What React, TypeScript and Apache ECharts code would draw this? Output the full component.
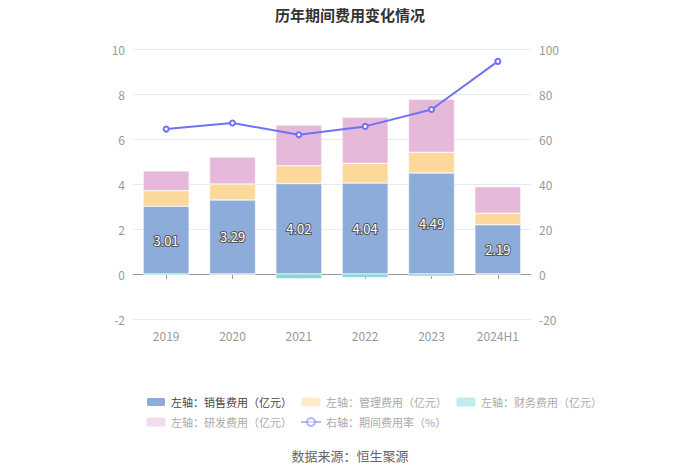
import React, { useEffect, useRef } from "react";
import * as echarts from "echarts";

const categories = ["2019", "2020", "2021", "2022", "2023", "2024H1"];
const salesExp = [3.01, 3.29, 4.02, 4.04, 4.49, 2.19];
const mgmtExp = [0.69, 0.71, 0.79, 0.88, 0.92, 0.51];
const finExp = [-0.05, -0.03, -0.21, -0.16, -0.1, -0.02];
const rdExp = [0.88, 1.2, 1.81, 2.05, 2.36, 1.18];
const expRate = [64.4, 67.1, 61.9, 65.6, 73.1, 94.5];

const names = [
  "左轴：销售费用（亿元）",
  "左轴：管理费用（亿元）",
  "左轴：财务费用（亿元）",
  "左轴：研发费用（亿元）",
  "右轴：期间费用率（%）",
];

export default function App() {
  const ref = useRef<HTMLDivElement>(null);
  useEffect(() => {
    const chart = echarts.init(ref.current!, null, { renderer: "svg" });
    const font = "'Noto Sans CJK SC', 'Noto Sans', sans-serif";
    const barBase = { type: "bar", stack: "a", barWidth: 46 };
    chart.setOption({
      animation: false,
      textStyle: { fontFamily: font },
      title: {
        text: "历年期间费用变化情况",
        left: "center",
        top: 2,
        textStyle: { fontSize: 15, fontWeight: "bold", color: "#333", fontFamily: font },
      },
      grid: { left: 133, right: 169, top: 49, bottom: 154 },
      legend: {
        left: 140,
        top: 391,
        width: 480,
        itemWidth: 20,
        itemHeight: 10,
        itemGap: 8,
        textStyle: { fontSize: 11, fontFamily: font },
        data: [
          { name: names[0], textStyle: { color: "#444" } },
          { name: names[1], textStyle: { color: "#aaa" }, itemStyle: { opacity: 0.55 } },
          { name: names[2], textStyle: { color: "#aaa" }, itemStyle: { opacity: 0.5 } },
          { name: names[3], textStyle: { color: "#aaa" }, itemStyle: { opacity: 0.5 } },
          { name: names[4], textStyle: { color: "#aaa" }, itemStyle: { opacity: 0.5 }, lineStyle: { opacity: 0.5 } },
        ],
      },
      xAxis: {
        type: "category",
        data: categories,
        axisLine: { lineStyle: { color: "#999" } },
        axisTick: { show: true, alignWithLabel: true, lineStyle: { color: "#999" } },
        axisLabel: { color: "#999", fontSize: 12, margin: 10 },
      },
      yAxis: [
        {
          type: "value",
          min: -2,
          max: 10,
          interval: 2,
          axisLine: { show: false },
          axisTick: { show: false },
          axisLabel: { color: "#999", fontSize: 12, margin: 8 },
          splitLine: { lineStyle: { color: "#e5e9f2" } },
        },
        {
          type: "value",
          min: -20,
          max: 100,
          interval: 20,
          axisLine: { show: false },
          axisTick: { show: false },
          axisLabel: { color: "#999", fontSize: 12, margin: 8 },
          splitLine: { show: false },
        },
      ],
      series: [
        {
          ...barBase,
          name: names[0],
          data: salesExp,
          itemStyle: { color: "#8eacd9", borderColor: "#fff", borderWidth: 0.5 },
          label: {
            show: true,
            position: "inside",
            color: "#fff",
            fontSize: 13,
            textBorderColor: "#555",
            textBorderWidth: 2,
          },
        },
        { ...barBase, name: names[1], data: mgmtExp, itemStyle: { color: "#fdd89b", borderColor: "#fff", borderWidth: 0.5 } },
        { ...barBase, name: names[2], data: finExp, itemStyle: { color: "#7fdada", borderColor: "#fff", borderWidth: 0.5 } },
        { ...barBase, name: names[3], data: rdExp, itemStyle: { color: "#e6b8d9", borderColor: "#fff", borderWidth: 0.5 } },
        {
          name: names[4],
          type: "line",
          yAxisIndex: 1,
          data: expRate,
          symbol: "emptyCircle",
          symbolSize: 5,
          lineStyle: { color: "#6f73f2", width: 2 },
          itemStyle: { color: "#6f73f2" },
        },
      ],
      graphic: [
        {
          type: "text",
          left: "center",
          top: 449,
          style: { text: "数据来源：恒生聚源", fill: "#666", fontSize: 13, fontFamily: font },
        },
      ],
    });
    return () => chart.dispose();
  }, []);
  return <div ref={ref} style={{ width: 700, height: 473, position: "absolute", left: 0, top: 0 }} />;
}
